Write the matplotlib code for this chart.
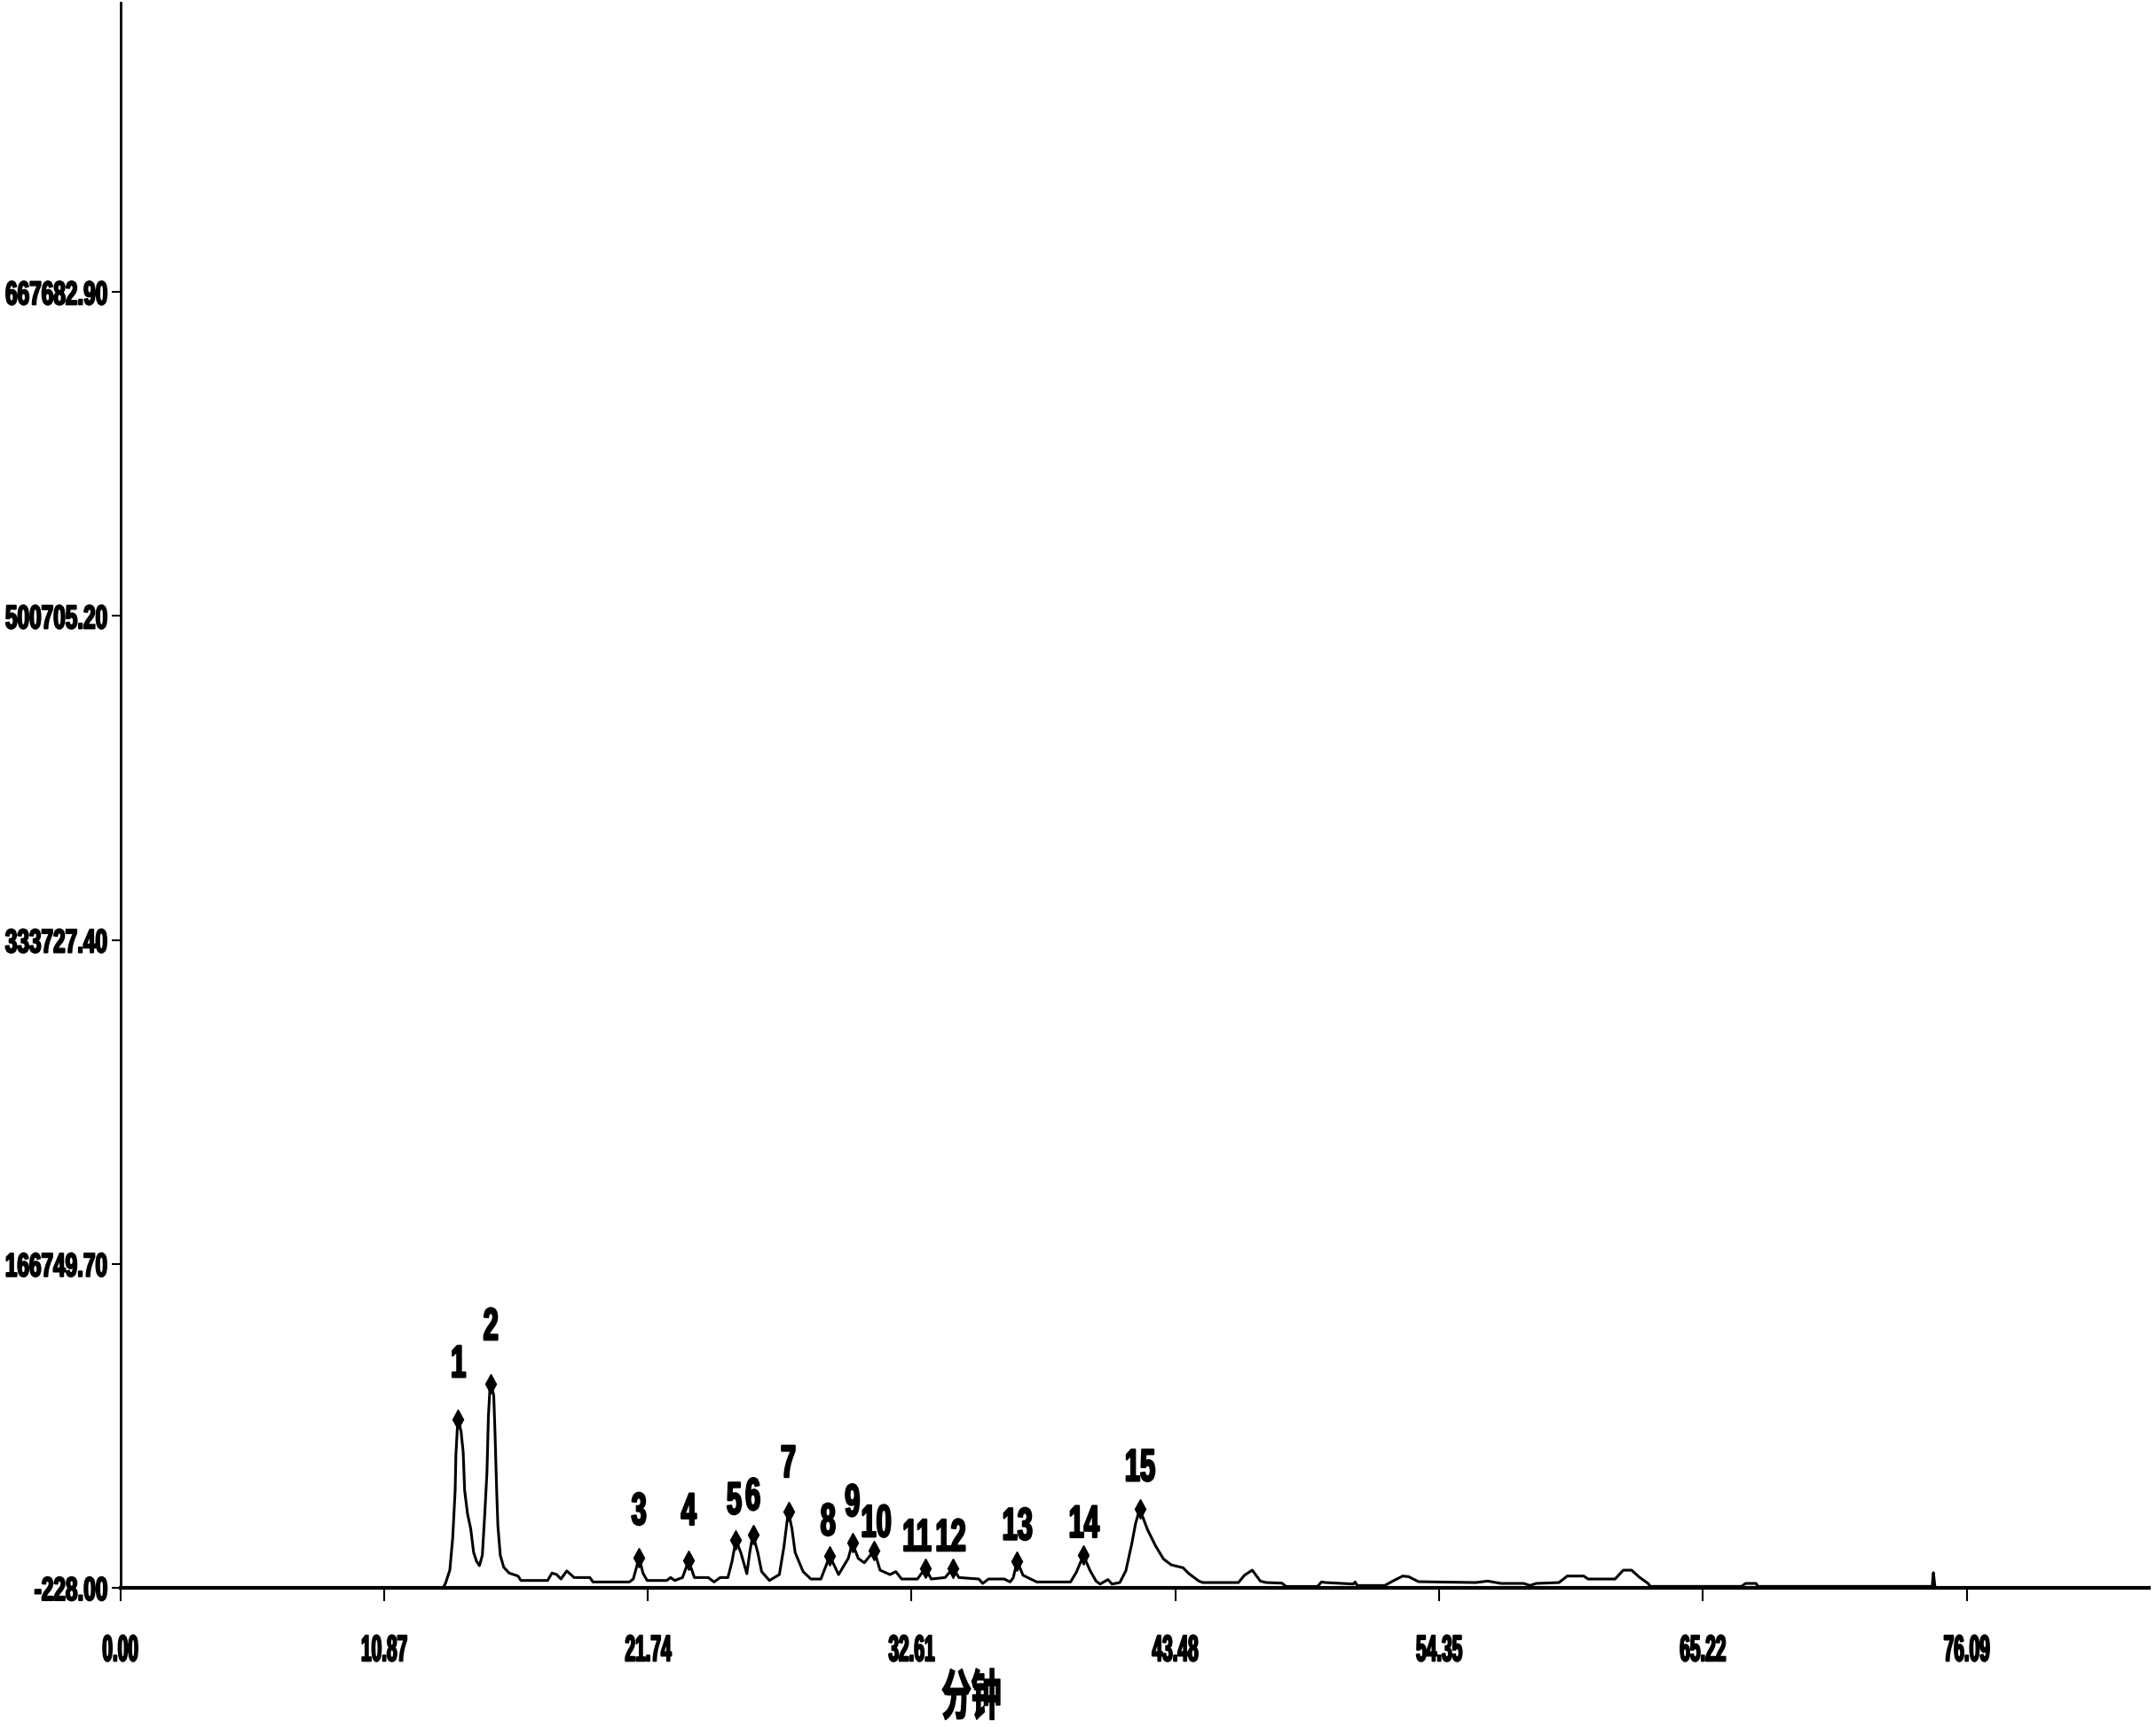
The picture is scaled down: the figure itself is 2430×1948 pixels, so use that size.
import matplotlib.pyplot as plt
import matplotlib.patheffects as pe
from matplotlib.transforms import Affine2D
import numpy as np

nan = float('nan')

# chromatogram trace (minutes, signal)
time_min = [8.20, 9.60, nan, 10.70, 13.30, 13.40, 13.58, 13.70, 13.80, 13.83, 13.89, 13.92,
            14.04, 14.13, 14.19, 14.31, 14.44, 14.56, 14.68, 14.80, 14.92, 15.02, 15.11, 15.17,
            15.23, 15.27, 15.39, 15.44, 15.51, 15.56, 15.66, 15.80, 16.02, 16.39, 16.51, 17.61,
            17.79, 17.98, 18.16, 18.40, 18.70, 19.35, 19.48, 20.98, 21.14, 21.38, 21.54, 21.71,
            22.52, 22.68, 22.85, 23.17, 23.42, 23.66, 24.23, 24.47, 24.72, 25.04, 25.21, 25.37,
            25.57, 25.82, 25.94, 26.07, 26.27, 26.43, 26.75, 27.16, 27.35, 27.53, 27.68, 27.81,
            28.14, 28.46, 28.87, 29.24, 29.60, 30.00, 30.17, 30.41, 30.66, 31.07, 31.31, 31.72,
            31.96, 32.20, 32.85, 33.18, 33.42, 33.99, 34.32, 34.56, 35.38, 35.54, 35.78, 36.43,
            36.67, 36.80, 36.96, 37.20, 37.44, 37.77, 39.16, 39.40, 39.69, 39.97, 40.21, 40.38,
            40.70, 40.87, 41.19, 41.44, 41.68, 41.84, 42.01, 42.33, 42.66, 42.99, 43.31, 43.80,
            44.04, 44.45, 44.61, 46.08, 46.33, 46.65, 46.98, 47.22, 47.87, 48.04, 49.34, 49.50,
            49.67, 50.81, 50.89, 50.97, 52.11, 52.44, 52.85, 53.09, 53.50, 54.23, 55.86, 56.35,
            56.90, 57.24, 57.84, 58.09, 58.35, 59.29, 59.63, 60.31, 60.49, 61.60, 61.94, 62.28,
            62.62, 62.96, 63.05, 66.81, 66.98, 67.41, 67.49, 74.67, 74.72, 74.78]
signal = [-228, -228, nan, -228, -228, 2060, 8920, 25710, 50100, 68400, 82120, 86700,
          80600, 69920, 50100, 37890, 30280, 18070, 13500, 11210, 16560, 37890, 59250, 88220,
          101940, 105000, 98890, 80600, 50100, 31800, 16560, 10450, 7410, 5870, 3580, 3580,
          7410, 6650, 4350, 8500, 5092, 5092, 2812, 2812, 4332, 15276, 7372, 3572,
          3572, 5092, 3572, 5092, 13756, 5092, 5092, 2812, 5092, 5092, 13452, 24396,
          18012, 7068, 18012, 27436, 18012, 8132, 3572, 6612, 21052, 39292, 30172, 18012,
          8132, 4332, 4332, 16188, 6612, 14972, 22876, 14972, 12692, 19076, 8892, 6612,
          8132, 4332, 4332, 9956, 4332, 5092, 9956, 5092, 4332, 2052, 4332, 4332,
          2812, 5000, 13452, 6308, 4788, 2812, 2812, 7828, 16492, 8588, 3268, 1748,
          4028, 1748, 2508, 8588, 22268, 32908, 40508, 29868, 21508, 14668, 11628, 10108,
          7068, 3268, 2508, 2508, 6308, 8892, 3268, 2508, 2204, 500, 500, 2812,
          2508, 1748, 2812, 988, 988, 3268, 5852, 5548, 2964, 2812, 2508, 3268,
          2052, 2052, 2052, 988, 2052, 2508, 5852, 5852, 4332, 4332, 8892, 8892,
          5092, 2052, 532, 532, 2052, 2052, 532, 532, 7600, 532]

peak_no = ['1', '2', '3', '4', '5', '6', '7', '8', '9', '10', '11', '12', '13', '14', '15']
peak_time = [13.92, 15.27, 21.38, 23.42, 25.37, 26.07, 27.53, 29.24, 30.17, 31.07,
             33.18, 34.32, 36.96, 39.69, 42.01]
peak_height = [86700, 105000, 15276, 13756, 24396, 27436, 39292, 16188, 22876, 19076,
               9956, 9956, 13452, 16492, 40508]

x_ticks = [0.00, 10.87, 21.74, 32.61, 43.48, 54.35, 65.22, 76.09]
y_ticks = [-228.00, 166749.70, 333727.40, 500705.20, 667682.90]

# label offsets above the apex, in pixels (layout only)
lab_dx = [0, 0, 0, 0, -2, 0, 0, -2, 0, 2, -10, -3, 0, 0, 0]
lab_dy = [61, 63, 51, 54, 43, 41, 52, 37, 44, 29, 33, 33, 38, 34, 45]


class Squeeze(pe.AbstractPathEffect):
    """narrow (and thicken) the glyphs, like the heavy condensed font of the original"""
    def __init__(self, sx, anchor=0.5, stroke=0.0):
        super().__init__()
        self.sx = sx
        self.anchor = anchor
        self.stroke = stroke

    def draw_path(self, renderer, gc, tpath, affine, rgbFace=None):
        ext = tpath.get_extents()
        x0 = ext.x0 + self.anchor * ext.width
        t = Affine2D().translate(-x0, 0).scale(self.sx, 1).translate(x0, 0) + affine
        gc0 = renderer.new_gc()
        gc0.copy_properties(gc)
        if self.stroke > 0:
            gc0.set_linewidth(self.stroke)
            gc0.set_foreground(rgbFace)
            gc0.set_joinstyle('round')
        renderer.draw_path(gc0, tpath, t, rgbFace)
        gc0.restore()


font = 'Liberation Sans'

fig = plt.figure(figsize=(24.3, 19.48), dpi=100)
ax = fig.add_axes([0.0558, 0.0811, 0.9409, 0.9175])

ax.plot(time_min, signal, color='black', lw=2.2)
ax.plot(peak_time, peak_height, ls='none', marker='d', ms=11, color='black')

for i in range(len(peak_no)):
    ax.annotate(peak_no[i], (peak_time[i], peak_height[i]),
                xytext=(lab_dx[i] * 0.72, lab_dy[i] * 0.72), textcoords='offset points',
                ha='center', va='center', fontsize=37, fontweight='bold', family=font,
                path_effects=[Squeeze(0.6, 0.5, 1.6)])

ax.set_xlim(0, 83.6)
ax.set_ylim(-228, 817000)
ax.set_xticks(x_ticks)
ax.set_xticklabels(['%.2f' % v for v in x_ticks])
ax.set_yticks(y_ticks)
ax.set_yticklabels(['%.2f' % v for v in y_ticks])

for lab in ax.get_xticklabels():
    lab.set_family(font)
    lab.set_fontweight('bold')
    lab.set_fontsize(30)
    lab.set_path_effects([Squeeze(0.5, 0.5, 1.4)])
for lab in ax.get_yticklabels():
    lab.set_family(font)
    lab.set_fontweight('bold')
    lab.set_fontsize(27)
    lab.set_path_effects([Squeeze(0.65, 1.0, 1.4)])

ax.tick_params(axis='x', direction='out', length=11, width=1.5, pad=26)
ax.tick_params(axis='y', direction='out', length=7, width=1.5, pad=3)

ax.spines['top'].set_visible(False)
ax.spines['right'].set_visible(False)
ax.spines['left'].set_linewidth(2)
ax.spines['bottom'].set_linewidth(3)

fig.text(0.4506, 0.0169, '分钟', ha='center', va='center', fontsize=44, fontweight='bold',
         family='Noto Sans CJK SC', path_effects=[Squeeze(0.55, 0.5, 1.2)])

fig.savefig('out.png', dpi=100)
